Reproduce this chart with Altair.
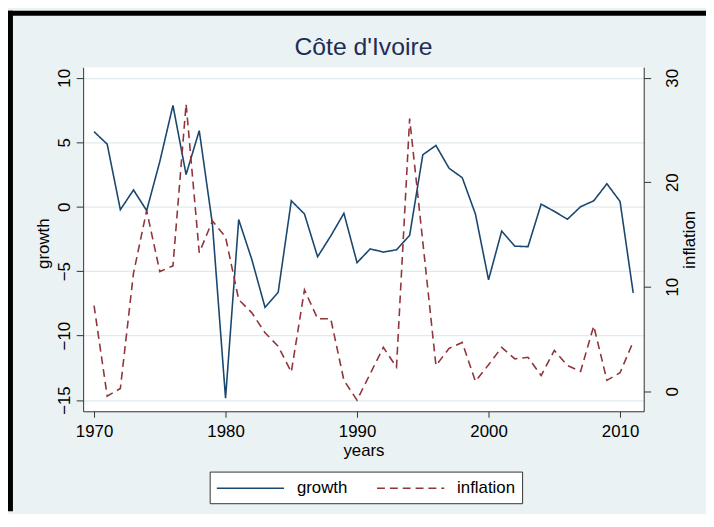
import altair as alt
import pandas as pd

years = list(range(1970, 2012))
growth = [5.82, 4.85, -0.23, 1.3, -0.3, 3.5, 7.86, 2.5, 5.9, -1.33,
          -14.85, -1.0, -4.1, -7.8, -6.65, 0.46, -0.56, -3.88, -2.27, -0.51,
          -4.34, -3.27, -3.52, -3.34, -2.22, 4.03, 4.75, 2.98, 2.25, -0.56,
          -5.67, -1.89, -3.06, -3.1, 0.2, -0.36, -0.97, 0.0, 0.46, 1.78,
          0.41, -6.68]
inflation = [8.2, -0.47, 0.26, 11.3, 17.3, 11.45, 12.0, 27.5, 13.25, 16.3,
             14.76, 8.77, 7.5, 5.6, 4.3, 1.83, 9.7, 6.94, 6.94, 1.04,
             -0.85, 1.67, 4.2, 2.3, 26.1, 14.3, 2.46, 4.1, 4.67, 0.95,
             2.53, 4.2, 3.1, 3.25, 1.5, 3.9, 2.46, 1.9, 6.25, 1.04,
             1.77, 4.73]
series_names = ["growth", "inflation"]
x_ticks = [1970, 1980, 1990, 2000, 2010]
growth_ticks = [-15, -10, -5, 0, 5, 10]
inflation_ticks = [0, 10, 20, 30]

n = len(years)
df = pd.DataFrame({
    "year": years + years,
    "value": growth + inflation,
    "series": [series_names[0]] * n + [series_names[1]] * n,
})

FONT = "Liberation Sans"
NAVY = "#1a476f"
MAROON = "#90353b"
BG = "#eaf2f3"
GRID = "#e0ebee"

W, H = 567, 348
PAD_L, PAD_T = 76, 57
TOTAL_W, TOTAL_H = 706, 506

color = alt.Color("series:N",
                  scale=alt.Scale(domain=series_names, range=[NAVY, MAROON]),
                  legend=alt.Legend(title=None))
dash = alt.StrokeDash("series:N",
                      scale=alt.Scale(domain=series_names, range=[[1, 0], [8, 5]]),
                      legend=alt.Legend(title=None))

x_enc = alt.X("year:Q",
              scale=alt.Scale(domain=[1969.17, 2011.8], nice=False, zero=False),
              axis=alt.Axis(values=x_ticks, format="d", title="years", grid=False,
                            tickSize=6, labelPadding=20, labelBaseline="alphabetic",
                            labelAlign="center",
                            titleBaseline="alphabetic", titleY=45))

growth_layer = alt.Chart(df).transform_filter(
    alt.datum.series == "growth"
).mark_line(strokeWidth=1.6).encode(
    x=x_enc,
    y=alt.Y("value:Q",
            scale=alt.Scale(domain=[-15.867, 10.82], nice=False, zero=False),
            axis=alt.Axis(orient="left", values=growth_ticks, title="growth",
                          grid=True, tickSize=7, labelAngle=270,
                          labelAlign="center", labelBaseline="alphabetic",
                          labelPadding=7, titleAngle=270, titleAlign="center",
                          titleBaseline="alphabetic", titleX=-35, titleY=178)),
    color=color,
    strokeDash=dash,
)

inflation_layer = alt.Chart(df).transform_filter(
    alt.datum.series == "inflation"
).mark_line(strokeWidth=1.6).encode(
    x=x_enc,
    y=alt.Y("value:Q",
            scale=alt.Scale(domain=[-1.921, 31.013], nice=False, zero=False),
            axis=alt.Axis(orient="right", values=inflation_ticks, title="inflation",
                          grid=False, tickSize=7, labelAngle=270,
                          labelAlign="center", labelBaseline="alphabetic",
                          labelPadding=27, titleAngle=270, titleAlign="center",
                          titleBaseline="alphabetic", titleX=51, titleY=174)),
    color=color,
    strokeDash=dash,
)

one = pd.DataFrame({"k": [0]})
frame_left = alt.Chart(one).mark_rule(color="black", strokeWidth=5).encode(
    x=alt.value(-PAD_L + 2.5), y=alt.value(-PAD_T), y2=alt.value(TOTAL_H - PAD_T))
frame_top = alt.Chart(one).mark_rule(color="black", strokeWidth=5).encode(
    y=alt.value(-PAD_T + 2.5), x=alt.value(-PAD_L), x2=alt.value(TOTAL_W - PAD_L))

chart = alt.layer(growth_layer, inflation_layer, frame_left, frame_top).resolve_scale(
    y="independent"
).properties(
    width=W, height=H,
    autosize=alt.AutoSizeParams(type="none"),
    padding={"left": PAD_L, "top": PAD_T, "right": TOTAL_W - PAD_L - W,
             "bottom": TOTAL_H - PAD_T - H},
    background=BG,
    title=alt.TitleParams("Côte d'Ivoire", fontSize=25, font=FONT,
                          fontWeight="normal", color="#1f2d56", anchor="middle",
                          baseline="alphabetic", offset=8, dy=80.5),
).configure_view(
    fill="white", strokeWidth=0
).configure_axis(
    labelFont=FONT, titleFont=FONT, labelFontSize=17, titleFontSize=17,
    titleFontWeight="normal", labelColor="black", titleColor="black",
    domainColor="#333333", tickColor="#333333", domainWidth=1, tickWidth=1,
    gridColor=GRID, gridWidth=1.2, labelOverlap=False, labelFlush=False,
).configure_legend(
    orient="none", legendX=128, legendY=409, direction="horizontal", columns=2,
    strokeColor="#333333", fillColor="white", padding=7,
    labelFont=FONT, labelFontSize=17, labelColor="black",
    symbolType="M-4,0H4", symbolSize=289, symbolStrokeWidth=1.5,
    symbolOffset=24.75, labelOffset=37.5, columnPadding=26,
)

chart.save("out.html", embed_options={"renderer": "svg", "actions": False})
